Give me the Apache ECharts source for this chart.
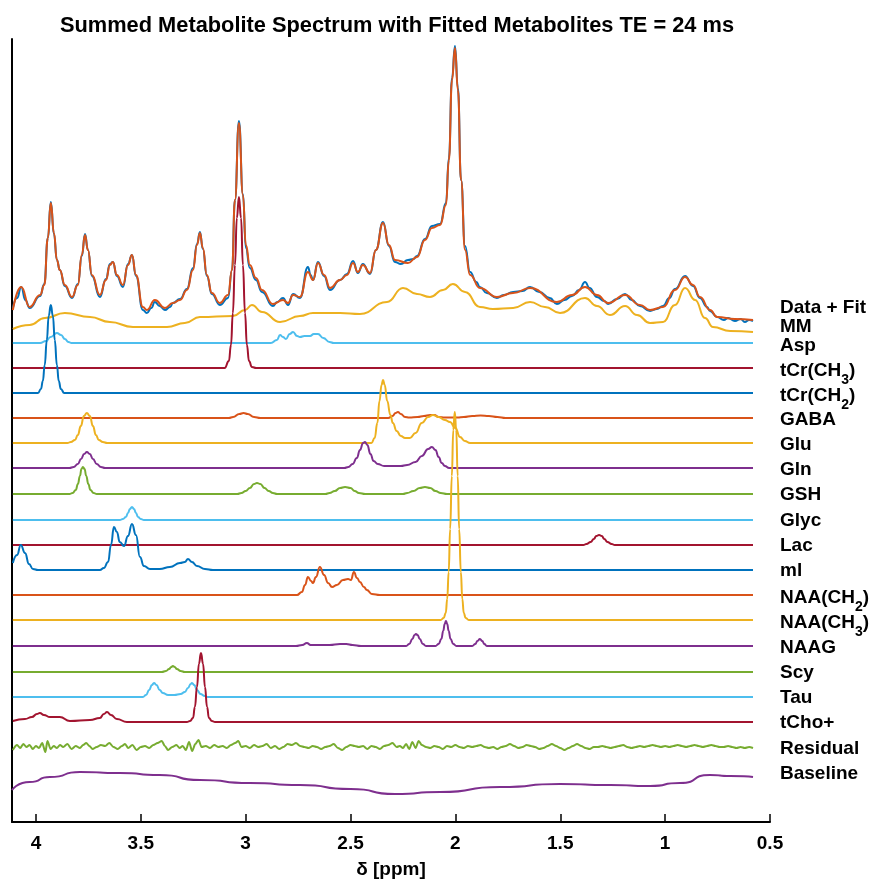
<!DOCTYPE html>
<html>
<head>
<meta charset="utf-8">
<script src="https://cdn.jsdelivr.net/npm/echarts@6.0.0/dist/echarts.min.js"></script>
<style>
html, body { margin: 0; padding: 0; background: #fff; }
#chart { width: 878px; height: 884px; }
</style>
</head>
<body>
<div id="chart"></div>
<script>
// each trace: [ppm, amplitude above its own baseline]
var dataSpec = [[4.11,12],[4.09,22],[4.07,33],[4.05,20],[4.03,12],[3.98,24],[3.96,36],[3.943,82],[3.929,118],[3.914,86],[3.90,60],[3.886,50],[3.862,34],[3.828,22],[3.80,36],[3.781,64],[3.766,86],[3.752,70],[3.733,44],[3.695,23],[3.666,41],[3.647,56],[3.633,58],[3.614,44],[3.585,33],[3.561,56],[3.542,65],[3.523,44],[3.49,10],[3.471,7],[3.45,12],[3.433,18],[3.41,14],[3.385,10],[3.36,13],[3.347,17],[3.313,21],[3.28,31],[3.251,52],[3.232,76],[3.218,88],[3.204,71],[3.185,44],[3.161,26],[3.123,15],[3.084,22],[3.065,50],[3.051,120],[3.032,199],[3.013,126],[2.999,72],[2.98,52],[2.951,40],[2.922,28],[2.87,14],[2.85,18],[2.822,22],[2.798,15],[2.774,26],[2.741,22],[2.703,53],[2.69,45],[2.679,40],[2.655,58],[2.626,44],[2.598,30],[2.55,40],[2.517,46],[2.488,59],[2.465,47],[2.441,56],[2.407,46],[2.379,70],[2.345,98],[2.317,74],[2.288,58],[2.26,56],[2.226,60],[2.2,61],[2.183,64],[2.145,81],[2.112,94],[2.073,96],[2.045,117],[2.031,162],[2.016,242],[2.002,274],[1.988,232],[1.973,140],[1.954,74],[1.93,48],[1.9,38],[1.883,33],[1.85,27],[1.802,22],[1.77,25],[1.725,28],[1.68,29],[1.644,33],[1.6,28],[1.55,22],[1.516,16],[1.48,20],[1.444,24],[1.41,30],[1.382,38],[1.36,32],[1.325,23],[1.29,19],[1.272,16],[1.23,21],[1.191,26],[1.16,20],[1.12,14],[1.072,9],[1.04,11],[1.01,14],[0.98,22],[0.953,31],[0.905,44],[0.867,34],[0.834,22],[0.80,13],[0.786,9],[0.752,3],[0.72,0],[0.70,2],[0.667,-1],[0.64,1],[0.62,-2],[0.60,0],[0.581,-1]];

var fitSpec = [[4.11,10],[4.07,33],[4.03,13],[3.98,25],[3.96,35],[3.943,82],[3.929,117],[3.914,87],[3.90,60],[3.886,50],[3.862,35],[3.828,23],[3.80,35],[3.781,65],[3.766,85],[3.752,70],[3.733,45],[3.695,25],[3.666,40],[3.647,55],[3.633,58],[3.614,45],[3.585,35],[3.561,55],[3.542,65],[3.523,45],[3.49,13],[3.471,10],[3.433,20],[3.385,12],[3.347,17],[3.313,20],[3.28,30],[3.251,50],[3.232,75],[3.218,87],[3.204,72],[3.185,45],[3.161,27],[3.123,17],[3.084,25],[3.065,50],[3.051,120],[3.032,197],[3.013,125],[2.999,75],[2.98,55],[2.951,42],[2.922,30],[2.87,16],[2.822,20],[2.798,17],[2.774,25],[2.741,23],[2.703,48],[2.679,40],[2.655,57],[2.626,45],[2.598,32],[2.55,40],[2.517,45],[2.488,57],[2.465,48],[2.441,55],[2.407,47],[2.379,70],[2.345,97],[2.317,75],[2.288,60],[2.226,57],[2.183,63],[2.145,80],[2.112,92],[2.073,95],[2.045,115],[2.031,160],[2.016,240],[2.002,272],[1.988,230],[1.973,140],[1.954,70],[1.93,45],[1.883,32],[1.802,23],[1.725,27],[1.644,32],[1.516,18],[1.444,25],[1.382,33],[1.325,25],[1.272,17],[1.191,25],[1.12,15],[1.072,10],[1.01,13],[0.953,30],[0.905,43],[0.867,35],[0.834,23],[0.786,10],[0.752,3],[0.667,1],[0.581,0]];

var mm = [[4.11,3],[4.03,7],[3.957,14],[3.862,19],[3.742,15],[3.647,10],[3.537,5],[3.375,5],[3.29,9],[3.218,15],[3.06,16],[3.003,22],[2.97,27],[2.922,20],[2.836,10],[2.741,16],[2.679,19],[2.55,19],[2.455,18],[2.326,30],[2.25,44],[2.183,38],[2.121,35],[2.059,42],[2.012,48],[1.954,40],[1.883,25],[1.821,23],[1.725,24],[1.644,30],[1.573,25],[1.501,19],[1.382,34],[1.325,26],[1.263,17],[1.191,26],[1.134,17],[1.072,9],[1.01,10],[0.953,27],[0.905,44],[0.857,32],[0.81,14],[0.772,5],[0.69,1],[0.581,0]];

var asp = [[4.11,0],[3.98,0],[3.952,2],[3.93,6],[3.90,10],[3.88,8],[3.862,4],[3.845,1],[3.83,0],[2.88,0],[2.851,3],[2.836,8],[2.822,6],[2.808,4],[2.79,9],[2.774,11],[2.755,7],[2.741,6],[2.72,7],[2.693,7],[2.675,9],[2.655,9],[2.63,5],[2.60,1],[2.58,0],[0.581,0]];

var tCr3 = [[4.11,0],[3.10,0],[3.080,7],[3.070,23],[3.061,55],[3.051,103],[3.042,150],[3.032,171],[3.022,150],[3.013,103],[3.003,55],[2.994,23],[2.984,7],[2.97,1],[2.95,0],[0.581,0]];

var tCr2 = [[4.11,0],[3.99,0],[3.976,4],[3.967,12],[3.958,28],[3.948,53],[3.939,77],[3.929,88],[3.919,77],[3.91,53],[3.90,28],[3.891,12],[3.881,4],[3.865,0],[0.581,0]];

var gaba = [[4.11,0],[3.08,0],[3.06,1],[3.03,4],[3.01,5],[2.99,4],[2.96,1],[2.93,0],[2.32,0],[2.30,2],[2.285,5],[2.274,6],[2.26,4],[2.24,1],[2.22,0.5],[2.18,1],[2.15,2],[2.12,3],[2.10,3],[2.08,1],[2.05,0.5],[1.99,0.5],[1.96,1],[1.92,2],[1.88,2.5],[1.84,2],[1.80,1],[1.76,0],[0.581,0]];

var glu = [[4.11,0],[3.85,0],[3.833,1],[3.814,3],[3.80,8],[3.786,17],[3.771,27],[3.757,30],[3.743,27],[3.728,17],[3.714,8],[3.70,3],[3.681,1],[3.66,0],[2.40,0],[2.385,5],[2.372,20],[2.362,42],[2.352,58],[2.345,63],[2.337,58],[2.325,42],[2.31,28],[2.298,20],[2.28,12],[2.26,7],[2.24,5],[2.217,5],[2.19,10],[2.16,20],[2.13,26],[2.107,28],[2.08,26],[2.05,23],[2.026,21],[2.0,15],[1.978,6],[1.955,2],[1.93,0],[0.581,0]];

var gln = [[4.11,0],[3.84,0],[3.82,1],[3.80,4],[3.785,9],[3.77,14],[3.757,16],[3.743,14],[3.728,9],[3.71,4],[3.69,1],[3.67,0],[2.53,0],[2.51,1],[2.49,4],[2.47,10],[2.455,18],[2.44,25],[2.431,26],[2.42,23],[2.405,14],[2.39,7],[2.37,4],[2.34,2],[2.30,2],[2.26,2],[2.23,3],[2.19,6],[2.16,12],[2.13,19],[2.112,21],[2.095,18],[2.08,11],[2.065,5],[2.05,2],[2.03,0],[0.581,0]];

var gsh = [[4.11,0],[3.84,0],[3.825,1],[3.81,4],[3.80,10],[3.79,18],[3.783,25],[3.776,27],[3.768,25],[3.76,18],[3.75,10],[3.74,4],[3.725,1],[3.71,0],[3.04,0],[3.02,1],[3.0,3],[2.98,6],[2.96,10],[2.946,11],[2.93,10],[2.91,6],[2.89,3],[2.87,1],[2.85,0],[2.62,0],[2.60,1],[2.575,3],[2.55,6],[2.526,7],[2.50,6],[2.48,3],[2.46,1],[2.43,0],[2.25,0],[2.23,1],[2.20,3],[2.17,6],[2.145,7],[2.12,6],[2.095,3],[2.07,1],[2.04,0],[0.581,0]];

var glyc = [[4.11,0],[3.60,0],[3.585,1],[3.571,3],[3.561,7],[3.552,11],[3.542,13],[3.532,11],[3.523,7],[3.513,3],[3.50,1],[3.485,0],[0.581,0]];

var lac = [[4.11,0],[1.39,0],[1.375,1],[1.355,3],[1.34,6],[1.328,9],[1.315,10],[1.302,9],[1.29,6],[1.275,3],[1.255,1],[1.24,0],[0.581,0]];

var mI = [[4.11,7],[4.09,15],[4.072,25],[4.052,17],[4.033,6],[4.014,1],[3.99,0],[3.695,0],[3.676,2],[3.656,8],[3.642,25],[3.628,43],[3.614,38],[3.60,28],[3.58,24],[3.561,34],[3.542,46],[3.523,35],[3.504,13],[3.485,4],[3.456,1],[3.41,1],[3.361,3],[3.313,7],[3.29,8],[3.275,11],[3.256,8],[3.232,4],[3.194,1],[3.156,0],[0.581,0]];

var naa2 = [[4.11,0],[2.755,0],[2.732,3],[2.717,10],[2.703,18],[2.688,14],[2.679,12],[2.665,18],[2.646,28],[2.626,20],[2.607,12],[2.588,8],[2.565,10],[2.536,15],[2.512,16],[2.498,15],[2.484,23],[2.469,17],[2.455,13],[2.436,8],[2.422,5],[2.398,1],[2.36,0],[0.581,0]];

var naa3 = [[4.11,0],[2.07,0],[2.056,2],[2.046,7],[2.039,21],[2.032,48],[2.025,91],[2.017,144],[2.010,190],[2.003,208],[1.996,190],[1.989,144],[1.982,91],[1.974,48],[1.967,21],[1.960,7],[1.951,2],[1.936,0],[0.581,0]];

var naag = [[4.11,0],[2.76,0],[2.73,1],[2.708,3],[2.69,1],[2.65,1],[2.60,1],[2.55,2],[2.52,2],[2.49,1],[2.45,0],[2.235,0],[2.22,2],[2.205,7],[2.195,11],[2.188,12],[2.18,11],[2.17,7],[2.155,2],[2.14,0],[2.095,0],[2.08,2],[2.067,7],[2.058,15],[2.051,22],[2.045,25],[2.039,22],[2.032,15],[2.023,7],[2.01,2],[1.995,0],[1.92,0],[1.905,2],[1.895,5],[1.883,7],[1.872,5],[1.862,2],[1.85,0],[0.581,0]];

var scy = [[4.11,0],[3.40,0],[3.38,1],[3.365,3],[3.355,5],[3.347,6],[3.338,5],[3.328,3],[3.31,1],[3.29,0],[0.581,0]];

var tau = [[4.11,0],[3.49,0],[3.475,2],[3.46,7],[3.447,12],[3.437,14],[3.425,12],[3.41,7],[3.395,4],[3.37,2],[3.34,2],[3.31,3],[3.29,5],[3.275,9],[3.262,13],[3.256,14],[3.245,12],[3.232,7],[3.215,3],[3.195,1],[3.18,0],[0.581,0]];

var tCho = [[4.11,1],[4.052,3],[4.019,5],[3.995,8],[3.981,9],[3.962,7],[3.933,5],[3.886,5],[3.838,1],[3.742,2],[3.695,4],[3.676,8],[3.661,10],[3.642,7],[3.614,3],[3.566,0],[3.28,0],[3.265,1],[3.251,4],[3.242,15],[3.232,35],[3.223,58],[3.213,69],[3.203,58],[3.194,35],[3.184,15],[3.175,4],[3.161,1],[3.146,0],[0.581,0]];

var resid = [[4.11,-3],[4.09,2],[4.075,-1],[4.06,3],[4.045,0],[4.03,2],[4.015,-2],[4.00,1],[3.985,-1],[3.97,4],[3.955,-5],[3.945,6],[3.93,-2],[3.915,1],[3.90,-1],[3.885,2],[3.87,0],[3.85,3],[3.83,-2],[3.81,1],[3.79,-1],[3.775,2],[3.76,4],[3.745,1],[3.73,-2],[3.71,0],[3.69,2],[3.67,1],[3.65,4],[3.63,0],[3.61,-2],[3.59,1],[3.575,3],[3.56,-1],[3.54,2],[3.52,-3],[3.50,0],[3.48,1],[3.46,-1],[3.44,2],[3.42,4],[3.40,6],[3.385,1],[3.37,-3],[3.35,0],[3.33,2],[3.315,-1],[3.30,1],[3.285,-3],[3.27,5],[3.255,-4],[3.24,3],[3.225,7],[3.21,0],[3.19,1],[3.17,-1],[3.15,2],[3.13,0],[3.11,1],[3.09,-1],[3.07,2],[3.05,4],[3.035,6],[3.02,0],[3.00,1],[2.98,-1],[2.96,2],[2.94,0],[2.92,1],[2.90,3],[2.88,-1],[2.86,1],[2.84,-2],[2.82,0],[2.80,3],[2.78,2],[2.76,4],[2.74,1],[2.72,0],[2.70,-1],[2.68,1],[2.66,0],[2.64,-2],[2.62,0],[2.60,1],[2.58,3],[2.56,-1],[2.54,-3],[2.52,0],[2.50,2],[2.48,1],[2.46,0],[2.44,1],[2.42,-2],[2.40,1],[2.38,0],[2.36,-2],[2.34,1],[2.32,2],[2.30,4],[2.28,0],[2.265,1],[2.25,-1],[2.235,3],[2.22,-2],[2.205,5],[2.19,-1],[2.175,6],[2.16,2],[2.14,0],[2.12,-1],[2.10,1],[2.08,0],[2.06,-2],[2.04,1],[2.02,0],[2.00,2],[1.98,0],[1.96,-1],[1.94,1],[1.92,0],[1.90,1],[1.88,2],[1.86,0],[1.84,-1],[1.82,0],[1.80,-2],[1.78,0],[1.76,1],[1.74,3],[1.72,1],[1.70,-1],[1.68,0],[1.66,2],[1.64,1],[1.62,0],[1.60,-2],[1.58,-1],[1.56,1],[1.54,3],[1.52,1],[1.50,-1],[1.48,-3],[1.46,-1],[1.44,1],[1.42,3],[1.40,1],[1.38,-1],[1.36,-2],[1.34,0],[1.32,0],[1.30,1],[1.28,0],[1.26,-1],[1.24,0],[1.22,1],[1.20,2],[1.18,0],[1.16,-1],[1.14,0],[1.12,1],[1.10,0],[1.08,1],[1.06,2],[1.04,1],[1.02,0],[1.00,1],[0.98,0],[0.96,1],[0.94,2],[0.92,1],[0.90,0],[0.88,1],[0.86,2],[0.84,1],[0.82,0],[0.80,1],[0.78,2],[0.76,1],[0.74,0],[0.72,0],[0.70,1],[0.68,0],[0.66,-1],[0.64,0],[0.62,-1],[0.60,0],[0.581,-1]];

var baseline = [[4.114,-13],[4.03,-5],[3.933,0],[3.79,5],[3.60,4],[3.41,2],[3.218,-3],[2.98,-6],[2.741,-8],[2.50,-12],[2.288,-17],[2.073,-15],[1.787,-10],[1.501,-7],[1.262,-8],[1.072,-9],[0.93,-6],[0.786,2],[0.69,1],[0.581,0]];

var traceNames = ['Data + Fit', 'MM', 'Asp', 'tCr(CH{s|3})', 'tCr(CH{s|2})', 'GABA', 'Glu', 'Gln', 'GSH', 'Glyc', 'Lac',
    'ml', 'NAA(CH{s|2})', 'NAA(CH{s|3})', 'NAAG', 'Scy', 'Tau', 'tCho+', 'Residual', 'Baseline'];
var traceData = [fitSpec, mm, asp, tCr3, tCr2, gaba, glu, gln, gsh, glyc, lac,
    mI, naa2, naa3, naag, scy, tau, tCho, resid, baseline];
// vertical stacking offset of each trace
var traceOffsets = [502, 490, 479, 454, 429, 404, 379, 354, 328, 302, 277, 252, 227, 202, 176, 150, 125, 100, 75, 45];
var xTicks = [4, 3.5, 3, 2.5, 2, 1.5, 1, 0.5];

var C = {
    blue: '#0072BD', orange: '#D95319', yellow: '#EDB120', purple: '#7E2F8E',
    green: '#77AC30', cyan: '#4DBEEE', red: '#A2142F'
};
var traceColors = [C.orange, C.yellow, C.cyan, C.red, C.blue, C.orange, C.yellow, C.purple, C.green, C.cyan, C.red,
    C.blue, C.orange, C.yellow, C.purple, C.green, C.cyan, C.red, C.green, C.purple];
var labelDy = [-12, -5, 3, 3, 3, 2, 2, 2, 1, 1, 1, 1, 3, 3, 2, 1, 1, 1, 1, -3];

var FONT = '"Liberation Sans", Arial, Helvetica, sans-serif';

function shift(spec, off) {
    return spec.map(function (p) { return [p[0], p[1] + off]; });
}

function lineSeries(name, data, color, extra) {
    var s = {
        name: name,
        type: 'line',
        data: data,
        showSymbol: false,
        smooth: 0.5,
        smoothMonotone: 'x',
        silent: true,
        lineStyle: { color: color, width: 2 },
        itemStyle: { color: color }
    };
    return Object.assign(s, extra || {});
}

var series = [lineSeries('Data', shift(dataSpec, traceOffsets[0]), C.blue)];

traceNames.forEach(function (label, i) {
    var pts = shift(traceData[i], traceOffsets[i]);
    var last = pts[pts.length - 1];
    series.push(lineSeries(label, pts, traceColors[i], {
        smooth: i === 18 ? 0.3 : (i === 19 ? 0.7 : 0.5),
        markPoint: {
            symbol: 'circle',
            symbolSize: 0,
            silent: true,
            data: [{ coord: [last[0], last[1]] }],
            label: {
                show: true,
                position: 'right',
                distance: 27,
                offset: [0, labelDy[i]],
                formatter: label,
                color: '#000',
                fontFamily: FONT,
                fontWeight: 'bold',
                fontSize: 19,
                rich: {
                    s: { fontFamily: FONT, fontWeight: 'bold', fontSize: 14, color: '#000', padding: [18, 0, 0, 0] }
                }
            }
        }
    }));
});

var chart = echarts.init(document.getElementById('chart'), null, { renderer: 'canvas' });
chart.setOption({
    animation: false,
    backgroundColor: '#fff',
    title: {
        text: 'Summed Metabolite Spectrum with Fitted Metabolites TE = 24 ms',
        left: 55,
        top: 10,
        textStyle: { fontFamily: FONT, fontWeight: 'bold', fontSize: 21.8, color: '#000' }
    },
    grid: { left: 12, right: 108, top: 39, bottom: 62, containLabel: false },
    xAxis: {
        type: 'value',
        inverse: true,
        min: 0.5,
        max: 4.114,
        interval: 0.5,
        name: 'δ [ppm]',
        nameLocation: 'middle',
        nameGap: 38,
        nameTextStyle: { fontFamily: FONT, fontWeight: 'bold', fontSize: 19, color: '#000' },
        axisLine: { onZero: false, lineStyle: { color: '#000', width: 2 } },
        axisTick: { inside: true, length: 8, lineStyle: { color: '#000', width: 1.5 } },
        axisLabel: {
            margin: 12,
            showMaxLabel: false,
            fontFamily: FONT, fontWeight: 'bold', fontSize: 19, color: '#000',
            formatter: function (v) {
                return xTicks.indexOf(Math.round(v * 100) / 100) >= 0 ? String(Math.round(v * 10) / 10) : '';
            }
        },
        splitLine: { show: false }
    },
    yAxis: {
        type: 'value',
        min: 0,
        max: 783,
        axisLine: { show: true, lineStyle: { color: '#000', width: 2 } },
        axisTick: { show: false },
        axisLabel: { show: false },
        splitLine: { show: false }
    },
    series: series
});
</script>
</body>
</html>
